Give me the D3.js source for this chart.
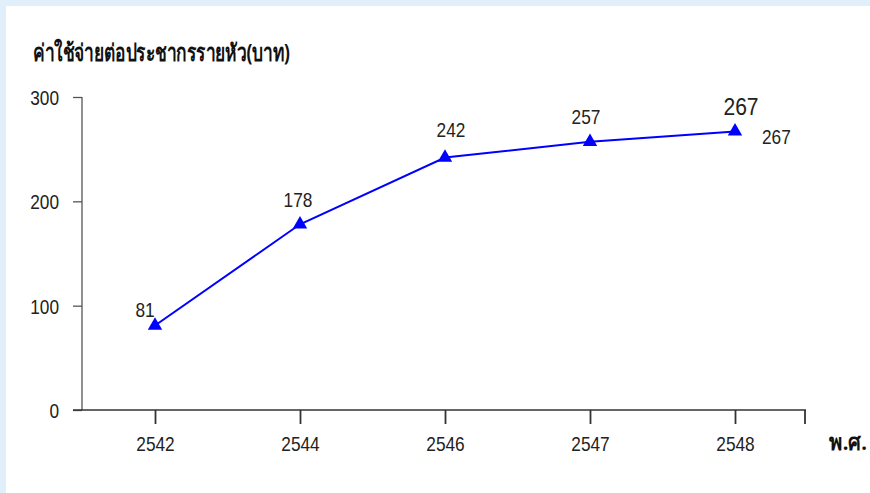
<!DOCTYPE html>
<html>
<head>
<meta charset="utf-8">
<script src="https://cdn.jsdelivr.net/npm/d3@7"></script>
<style>
  html, body { margin: 0; padding: 0; background: #fff; }
  svg { display: block; }
  .num { font-family: "Liberation Sans", sans-serif; fill: #222; }
  .thai { font-family: "Noto Sans", "DejaVu Sans", sans-serif; font-weight: bold; fill: #111; }
</style>
</head>
<body>
<svg id="chart" width="870" height="493"></svg>
<script>
// Per-capita expenditure (baht) by Buddhist-era year
const years = ["2542", "2544", "2546", "2547", "2548"];
const spending = [81, 178, 242, 257, 267];
const yTicks = [0, 100, 200, 300];
const titleText = "ค่าใช้จ่ายต่อประชากรรายหัว(บาท)";
const xAxisTitle = "พ.ศ.";

const svg = d3.select("#chart");
const W = 870, H = 493;

// condensed numerals: squeeze each string to a fixed advance per character
const narrow = (sel, perChar) => sel
  .attr("textLength", function () { return this.textContent.length * perChar; })
  .attr("lengthAdjust", "spacingAndGlyphs");

// page frame: pale blue strip along top and left
svg.append("rect").attr("width", W).attr("height", H).attr("fill", "#e1effa");
svg.append("rect").attr("x", 6).attr("y", 6).attr("width", W - 6).attr("height", H - 6).attr("fill", "#fff");

const x = d3.scalePoint().domain(years).range([155, 735]);
const y = d3.scaleLinear().domain([0, 300]).range([410, 97]);

const axisColor = "#333";

// y axis
const yAxis = svg.append("g").attr("transform", "translate(82,0)")
  .call(d3.axisLeft(y).tickValues(yTicks).tickSize(9).tickPadding(14).tickFormat(d3.format("d")));
yAxis.select(".domain").attr("d", `M0,${y(300)}V${y(0)}`).attr("stroke", "#555").attr("stroke-width", 1.3);
yAxis.selectAll(".tick line").attr("stroke", "#555").attr("stroke-width", 1.3);
yAxis.selectAll(".tick text").attr("class", "num").attr("font-size", 21).attr("dy", "0.36em")
  .attr("font-family", null).call(narrow, 9.6);

// x axis
const xAxis = svg.append("g").attr("transform", `translate(0,${y(0)})`)
  .call(d3.axisBottom(x).tickSize(14).tickPadding(12));
xAxis.select(".domain").attr("d", "M73,0H806").attr("stroke", axisColor).attr("stroke-width", 1.3);
xAxis.selectAll(".tick line").attr("stroke", axisColor).attr("stroke-width", 1.8);
xAxis.selectAll(".tick text").attr("class", "num").attr("font-size", 21).attr("font-family", null)
  .call(narrow, 9.6);
// closing tick at the right end of the axis
xAxis.append("line").attr("x1", 805).attr("x2", 805).attr("y1", 0).attr("y2", 14)
  .attr("stroke", axisColor).attr("stroke-width", 1.8);

// titles
svg.append("text").attr("class", "thai").attr("x", 33).attr("y", 61)
  .attr("font-size", 24).attr("textLength", 257).attr("lengthAdjust", "spacingAndGlyphs")
  .text(titleText);
svg.append("text").attr("class", "thai").attr("x", 829).attr("y", 450)
  .attr("font-size", 22).attr("textLength", 38).attr("lengthAdjust", "spacingAndGlyphs")
  .text(xAxisTitle);

// series line
const data = years.map((yr, i) => ({ yr, v: spending[i] }));
svg.append("path").datum(data)
  .attr("fill", "none").attr("stroke", "#0000ff").attr("stroke-width", 2)
  .attr("d", d3.line().x(d => x(d.yr)).y(d => y(d.v)));

// triangle markers
svg.selectAll("path.marker").data(data).join("path")
  .attr("class", "marker")
  .attr("transform", d => `translate(${x(d.yr)},${y(d.v)})`)
  .attr("d", d3.symbol().type(d3.symbolTriangle).size(90))
  .attr("fill", "#0000ff");

// value labels
const labelShift = [[-10, -8], [-2, -17], [6, -21], [-4, -18], [6, -16]];
svg.selectAll("text.val").data(data).join("text")
  .attr("class", "num val")
  .attr("text-anchor", "middle")
  .attr("font-size", (d, i) => i === data.length - 1 ? 24 : 21)
  .attr("x", (d, i) => x(d.yr) + labelShift[i][0])
  .attr("y", (d, i) => y(d.v) + labelShift[i][1])
  .text(d => d.v)
  .each(function (d, i) {
    const w = i === data.length - 1 ? 11.7 : 9.6;
    d3.select(this).call(narrow, w);
  });

// secondary label beside the last point
const last = data[data.length - 1];
svg.append("text").attr("class", "num").attr("font-size", 21)
  .attr("x", x(last.yr) + 27).attr("y", y(last.v) + 13)
  .text(last.v)
  .call(narrow, 9.6);
</script>
</body>
</html>
